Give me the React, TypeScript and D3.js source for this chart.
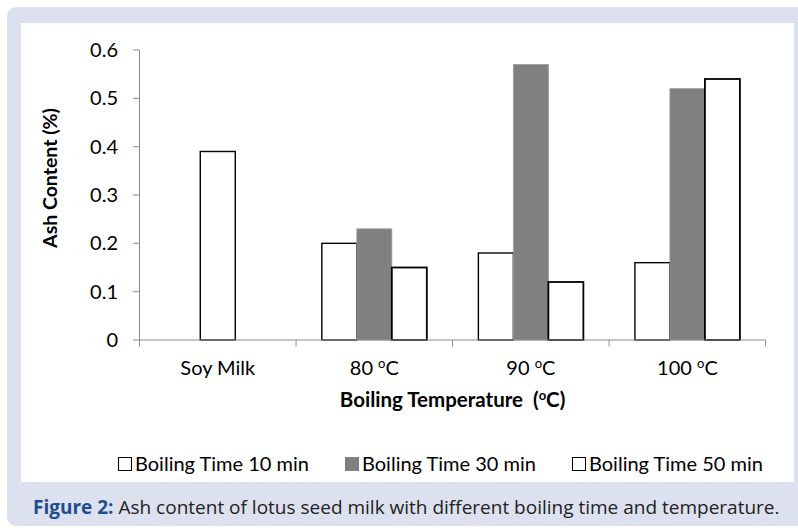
import React from "react";
import * as d3 from "d3";

const categories = ["Soy Milk", "80", "90", "100"];
const seriesNames = ["Boiling Time 10 min", "Boiling Time 30 min", "Boiling Time 50 min"];
const time10 = [null, 0.2, 0.18, 0.16];
const time30 = [0.39, 0.23, 0.57, 0.52];
const time50 = [null, 0.15, 0.12, 0.54];
const yTicks = [0, 0.1, 0.2, 0.3, 0.4, 0.5, 0.6];

const W = 798;
const H = 530;
const plot = { left: 139.5, right: 765.7, top: 50, bottom: 340 };

export default function App() {
  const x = d3.scaleBand<string>().domain(categories).range([plot.left, plot.right]).padding(0);
  const y = d3.scaleLinear().domain([0, 0.6]).range([plot.bottom, plot.top]);
  const groupW = 105;
  const inner = d3.scaleBand<number>().domain([0, 1, 2]).range([0, groupW]).padding(0);
  const series = [time10, time30, time50];
  const font = "Lato, 'Open Sans', sans-serif";

  const bars: any[] = [];
  series.forEach((vals, si) => {
    vals.forEach((v, ci) => {
      if (v == null) return;
      const cx = (x(categories[ci]) as number) + x.bandwidth() / 2;
      const x0 = cx - groupW / 2 + (inner(si) as number);
      const isControl = ci === 0;
      const gray = si === 1 && !isControl;
      bars.push(
        <rect
          key={`${si}-${ci}`}
          x={x0}
          y={y(v)}
          width={inner.bandwidth()}
          height={plot.bottom - y(v)}
          fill={gray ? "#808080" : "#ffffff"}
          stroke={gray ? "#9a9a9a" : "#000"}
          strokeWidth={gray ? 0.8 : si === 2 ? 1.8 : 1.4}
        />
      );
    });
  });

  const legendItems = [
    { x: 118, fill: "#fff" },
    { x: 345, fill: "#808080" },
    { x: 572, fill: "#fff" },
  ];

  return (
    <svg width={W} height={H} style={{ position: "absolute", left: 0, top: 0 }}>
      <rect x={7} y={7} width={800} height={519} rx={9} fill="#dde1ef" />
      <rect x={21} y={23} width={773} height={459} fill="#ffffff" />

      {bars}

      {/* y axis */}
      <line x1={plot.left} x2={plot.left} y1={plot.top} y2={plot.bottom} stroke="#8c8c8c" strokeWidth={1} />
      {yTicks.map((t) => (
        <g key={t}>
          <line x1={plot.left - 6.5} x2={plot.left} y1={y(t)} y2={y(t)} stroke="#8c8c8c" />
          <text x={118} y={y(t)} dy="0.35em" textAnchor="end" fontFamily={font} fontSize={20} fill="#000">
            {t === 0 ? "0" : t.toFixed(1)}
          </text>
        </g>
      ))}

      {/* x axis */}
      <line x1={plot.left} x2={plot.right} y1={plot.bottom} y2={plot.bottom} stroke="#8c8c8c" strokeWidth={1} />
      {[...categories.map((c) => x(c) as number), plot.right].map((px, i) => (
        <line key={i} x1={px} x2={px} y1={plot.bottom} y2={plot.bottom + 6.5} stroke="#8c8c8c" />
      ))}
      {categories.map((c) => {
        const cx = (x(c) as number) + x.bandwidth() / 2;
        return (
          <text key={c} x={cx} y={375} textAnchor="middle" fontFamily={font} fontSize={20} fill="#000">
            {c === "Soy Milk" ? (
              c
            ) : (
              <>
                {c + " "}
                <tspan fontSize={13} dy={-7}>o</tspan>
                <tspan dy={7}>C</tspan>
              </>
            )}
          </text>
        );
      })}

      <text
        x={452.6}
        y={407}
        textAnchor="middle"
        fontFamily={font}
        fontSize={20.5}
        fontWeight="bold"
        fill="#000"
        style={{ whiteSpace: "pre" }}
      >
        {"Boiling Temperature  ("}
        <tspan fontSize={13} dy={-7}>o</tspan>
        <tspan dy={7}>C)</tspan>
      </text>

      <text
        transform={`translate(57,178) rotate(-90)`}
        textAnchor="middle"
        fontFamily={font}
        fontSize={19.5}
        fontWeight="bold"
        fill="#000"
      >
        Ash Content (%)
      </text>

      {/* legend */}
      {seriesNames.map((n, i) => (
        <g key={n}>
          <rect
            x={legendItems[i].x + 0.5}
            y={457.5}
            width={13}
            height={13}
            fill={legendItems[i].fill}
            stroke={legendItems[i].fill === "#fff" ? "#000" : "#808080"}
            strokeWidth={1}
          />
          <text x={legendItems[i].x + 17} y={471} fontFamily={font} fontSize={20} fill="#000">
            {n}
          </text>
        </g>
      ))}

      {/* caption */}
      <text x={33} y={514} fontFamily="'Open Sans', sans-serif" fontSize={19} fill="#222">
        <tspan fontWeight="bold" fill="#1d4e91">Figure 2:</tspan>
        {" Ash content of lotus seed milk with different boiling time and temperature."}
      </text>
    </svg>
  );
}
